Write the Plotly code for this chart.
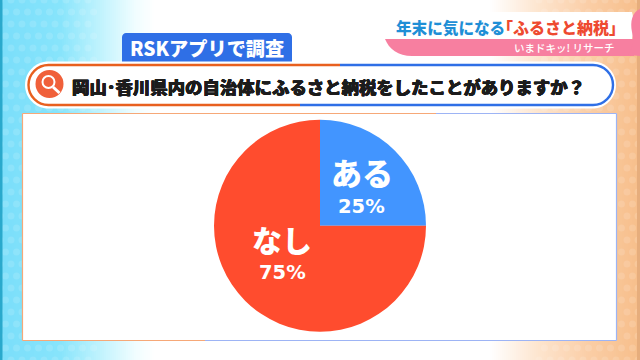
import plotly.graph_objects as go

labels = ["ある", "なし"]
values = [25, 75]
colors = ["#4295ff", "#ff4c2e"]
question = "岡山･香川県内の自治体にふるさと納税をしたことがありますか？"
badge = "RSKアプリで調査"
FONT = "Noto Sans CJK JP"
NUM = "DejaVu Sans"

stops = [(0, (122, 222, 250)), (60, (135, 228, 251)), (95, (185, 241, 253)), (135, (240, 253, 255)), (155, (255, 255, 255)),
         (490, (255, 255, 255)), (540, (253, 228, 205)), (590, (250, 205, 165)), (640, (247, 190, 138))]
def bg(x):
    for (a, ca), (b, cb) in zip(stops, stops[1:]):
        if a <= x <= b:
            f = (x - a) / (b - a)
            return "rgb(%d,%d,%d)" % tuple(round(p + (q - p) * f) for p, q in zip(ca, cb))
    return "white"

fig = go.Figure()
fig.add_trace(go.Pie(labels=labels, values=values, sort=False, direction="clockwise", rotation=0,
    marker=dict(colors=colors, line=dict(width=0)), textinfo="none", showlegend=False, hoverinfo="skip",
    domain=dict(x=[214/640, 426/640], y=[1-331.7/360, 1-119.7/360])))

shapes = [dict(type="rect", x0=x, x1=x+2.01, y0=0, y1=360, fillcolor=bg(x+1), line_width=0, layer="below") for x in range(0, 640, 2)]
# subtle dot pattern at both edges
for row in range(0, 31):
    for col in list(range(0, 9)) + list(range(49, 59)):
        cx = col * 11 + (5.5 if row % 2 else 0)
        cy = row * 12
        if 22 < cx < 617 and 113 < cy < 341:
            continue
        if 25 < cx < 616 and 62 < cy < 108:
            continue
        shapes.append(dict(type="circle", x0=cx-3.5, x1=cx+3.5, y0=cy-3.5, y1=cy+3.5, fillcolor="rgba(255,255,255,0.13)", line_width=0, layer="below"))

K = 0.5523
def below(**kw):
    kw["layer"] = "below"
    shapes.append(kw)
def line(x0, y0, x1, y1, color, w):
    below(type="line", x0=x0, y0=y0, x1=x1, y1=y1, line=dict(color=color, width=w))
def pill(x0, x1, y0, y1, r):
    c = r * (1 - K)
    return (f"M{x0+r} {y0} L{x1-r} {y0} C{x1-c} {y0} {x1} {y0+c} {x1} {y0+r} C{x1} {y1-c} {x1-c} {y1} {x1-r} {y1} "
            f"L{x0+r} {y1} C{x0+c} {y1} {x0} {y1-c} {x0} {y0+r} C{x0} {y0+c} {x0+c} {y0} {x0+r} {y0} Z")

OR, BL = "#e8601f", "#2f6fe6"
# vertical edge bands
below(type="rect", x0=0, x1=2.5, y0=0, y1=360, fillcolor="#2aa9cc", line_width=0)
below(type="rect", x0=637, x1=640, y0=0, y1=360, fillcolor="#e6ad7c", line_width=0)
# panel
below(type="rect", x0=22.5, x1=616.5, y0=113.5, y1=340.5, fillcolor="white", line_width=0)
line(22.5, 113.5, 436, 113.5, "#f6a878", 1.2)
line(436, 113.5, 616.5, 113.5, "#9db4f5", 1.2)
line(22.5, 113.5, 22.5, 340.5, "#f6a878", 1.2)
line(616.5, 113.5, 616.5, 340.5, "#9db4f5", 1.2)
line(22.5, 340.5, 205, 340.5, "#f6a878", 1.2)
line(205, 340.5, 616.5, 340.5, "#9db4f5", 1.2)
# badge
below(type="path", path="M122 62 L122 37 C122 35 124 33 126 33 L288 33 C290 33 292 35 292 37 L292 62 Z", fillcolor=BL, line_width=0)
# question pill
below(type="path", path=pill(25, 616, 61.5, 108.5, 23.5), fillcolor="white", line_width=0)
r, c = 20, 20 * (1 - K)
x0, x1, y0, y1 = 28.5, 613, 65, 105
below(type="path", path=f"M340 {y0} L{x0+r} {y0} C{x0+c} {y0} {x0} {y0+c} {x0} {y0+r} C{x0} {y1-c} {x0+c} {y1} {x0+r} {y1} L300 {y1}", line=dict(color=OR, width=2.4))
below(type="path", path=f"M340 {y0} L{x1-r} {y0} C{x1-c} {y0} {x1} {y0+c} {x1} {y0+r} C{x1} {y1-c} {x1-c} {y1} {x1-r} {y1} L300 {y1}", line=dict(color=BL, width=2.4))
# magnifier icon
below(type="circle", x0=35.5, x1=63.5, y0=70, y1=98, fillcolor="#f0603a", line_width=0)
below(type="circle", x0=42.5, x1=54.5, y0=76, y1=88, fillcolor="#f0603a", line=dict(color="white", width=2))
line(53, 87, 59.5, 93, "white", 3)
# header tag
below(type="path", path="M634 39 L385 39 C389 49 398 56 412 56 L634 56 Z", fillcolor="#f77fa0", line_width=0)
below(type="path", path="M632 12 L402 12 C391 12 384 20 384 30 C384 33 384 36 385 39 L632 39 C634 30 634 20 632 12 Z", fillcolor="white", line_width=0)
below(type="path", path="M640 9 C632 12 630 22 632 32 C634 42 632 50 628 55 L640 56 Z", fillcolor="#f77fa0", line_width=0)

def t(x, y, s, size, color, anchor="center", weight=700, family=FONT, shadow=None):
    f = dict(family=family, size=size, color=color, weight=weight)
    if shadow:
        f["shadow"] = shadow
    fig.add_annotation(xref="x", yref="y", x=x, y=y, text=s, showarrow=False, xanchor=anchor, yanchor="middle", font=f)
t(206.5, 48, badge, 19.2, "white", weight=900)
t(328.5, 86, question, 17.4, "#1c1c1c", weight=900, shadow="0.4px 0 0 #1c1c1c, -0.4px 0 0 #1c1c1c, 0 0.4px 0 #1c1c1c, 0 -0.4px 0 #1c1c1c")
t(450.5, 27, "年末に気になる", 15.6, "#1f8fd6", weight=900)
t(561, 27, "「ふるさと納税」", 16, "#ee4a30", weight=900)
t(616, 47, "いまドキッ! リサーチ", 10.5, "white", "right", 500)
t(361.7, 171, labels[0], 31, "white", weight=900)
t(361.7, 206, f"{values[0]}%", 19.5, "white", family=NUM)
t(281.7, 239, labels[1], 30, "white", weight=900)
t(282.7, 272, f"{values[1]}%", 19.5, "white", family=NUM)

fig.update_layout(width=640, height=360, margin=dict(l=0, r=0, t=0, b=0), shapes=shapes,
    xaxis=dict(range=[0, 640], visible=False, fixedrange=True),
    yaxis=dict(range=[360, 0], visible=False, fixedrange=True),
    paper_bgcolor="white", plot_bgcolor="rgba(0,0,0,0)")
fig.write_html("out.html", config=dict(displayModeBar=False),
               post_script="document.body.style.margin='0';document.body.style.overflow='hidden';")
